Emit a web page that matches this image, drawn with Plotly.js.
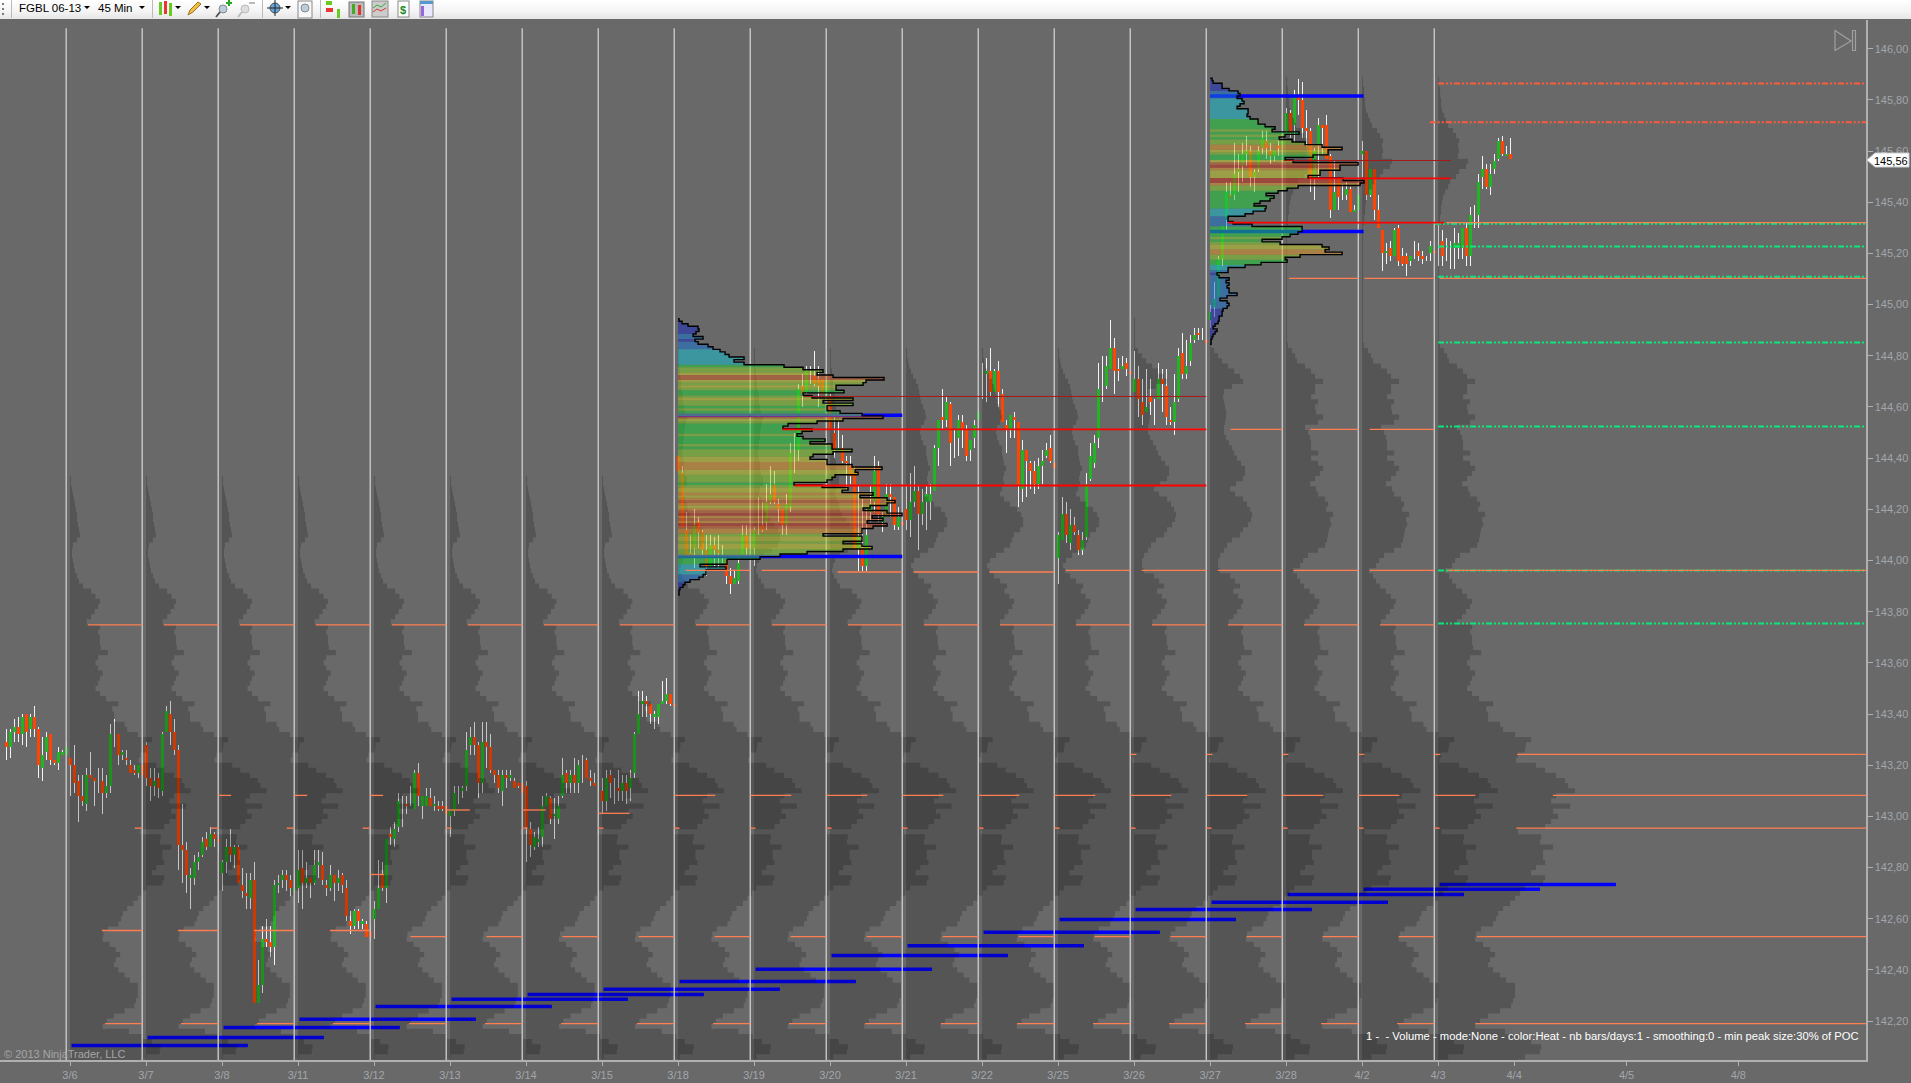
<!DOCTYPE html>
<html><head><meta charset="utf-8">
<script src="https://cdn.plot.ly/plotly-3.0.1.min.js"></script>
<style>
html,body{margin:0;padding:0;background:#696969;overflow:hidden;width:1911px;height:1083px}
#chart{position:absolute;left:0;top:0;width:1911px;height:1083px}
#bar{position:absolute;left:0;top:0;width:1911px;height:19px;background:linear-gradient(#ffffff,#f4f4f4 60%,#e6e6e6);z-index:5;font:11.5px "Liberation Sans",Arial,sans-serif;color:#000}
#bar span{position:absolute;top:2px}
#bar svg{position:absolute;left:0;top:0}
</style></head><body>
<div id="chart"></div>
<div id="bar">
<span style="left:19px">FGBL 06-13</span><span style="left:98px">45 Min</span>
<svg width="460" height="19">
<g fill="#000"><path d="M84 6h6l-3 3zM139 6h6l-3 3zM175 6h6l-3 3zM204 6h6l-3 3zM285 6h6l-3 3z"/></g>
<g stroke="#bbb"><path d="M11.5 0v18M152.5 0v18M262.5 0v18M320.5 0v18"/></g>
<g stroke="#555" fill="none"><circle cx="3" cy="4" r=".7"/><circle cx="3" cy="9" r=".7"/><circle cx="3" cy="14" r=".7"/></g>
<rect x="159" y="2" width="3" height="13" fill="#6c2"/><rect x="164" y="1" width="3" height="13" fill="#e33"/><rect x="169" y="3" width="3" height="13" fill="#6c2"/>
<path d="M188 15l2-5 8-8 3 2-8 8z" fill="#f0c040" stroke="#a07020"/>
<circle cx="223" cy="9" r="4" fill="#bcd" stroke="#888"/><path d="M220 12l-4 5" stroke="#555" stroke-width="2"/><path d="M229 0v6M226 3h6" stroke="#2a2" stroke-width="2"/>
<circle cx="245" cy="9" r="4" fill="#ddd" stroke="#bbb"/><path d="M242 12l-4 5" stroke="#bbb" stroke-width="2"/><path d="M249 3h6" stroke="#bbb" stroke-width="2"/>
<circle cx="275" cy="8" r="5" fill="#6aa5d8" stroke="#456"/><path d="M275 0v16M267 8h16" stroke="#222"/>
<rect x="298" y="1" width="14" height="17" fill="#f8f8f8" stroke="#888"/><circle cx="305" cy="8" r="4" fill="#bcd" stroke="#888"/>
<rect x="326" y="1" width="6" height="4" fill="#6c2"/><rect x="326" y="8" width="7" height="4" fill="#e33"/><rect x="337" y="9" width="3" height="9" fill="#6c2"/>
<rect x="349" y="2" width="15" height="15" fill="#bbb" stroke="#777"/><rect x="352" y="4" width="3" height="10" fill="#4a2"/><rect x="358" y="5" width="3" height="10" fill="#d33"/>
<rect x="372" y="1" width="16" height="16" fill="#ccc" stroke="#888"/><path d="M373 8l4-3 4 2 5-4" stroke="#3a3" fill="none"/><path d="M373 12l4-3 4 2 5-3" stroke="#d33" fill="none"/>
<rect x="398" y="1" width="11" height="16" fill="#fff" stroke="#888"/><text x="400" y="14" font-size="11" font-weight="bold" fill="#282">$</text>
<rect x="420" y="1" width="13" height="16" fill="#e8e8ff" stroke="#888"/><rect x="420" y="1" width="13" height="3" fill="#59c"/><rect x="421" y="6" width="3" height="10" fill="#96d"/>
</svg></div>
<script>
// Session labels and axis ticks
const dateLabels = ["3/6","3/7","3/8","3/11","3/12","3/13","3/14","3/15","3/18","3/19","3/20","3/21","3/22","3/25","3/26","3/27","3/28","4/2","4/3","4/4","4/5","4/8"];
const dateTickPositions = [0,1,2,3,4,5,6,7,8,9,10,11,12,13,14,15,16,17,18,19,20.48,21.95];

// 45-minute candles as [open, high, low, close]
const s0305 = [[143.29,143.34,143.22,143.27],[143.27,143.34,143.23,143.33],[143.33,143.38,143.29,143.35],[143.35,143.39,143.29,143.32],[143.32,143.40,143.28,143.39],[143.40,143.40,143.27,143.33],[143.34,143.40,143.31,143.39],[143.39,143.43,143.31,143.34],[143.34,143.35,143.15,143.20],[143.19,143.31,143.14,143.24],[143.25,143.33,143.22,143.31],[143.32,143.32,143.20,143.22],[143.22,143.22,143.20,143.21],[143.21,143.27,143.18,143.25],[143.24,143.26,143.24,143.25],[143.24,143.29,143.24,143.27]];
const s0306 = [[143.23,143.23,143.08,143.20],[143.20,143.28,143.09,143.13],[143.14,143.16,142.98,143.08],[143.08,143.16,143.04,143.06],[143.05,143.19,143.02,143.16],[143.16,143.25,143.15,143.15],[143.15,143.15,143.04,143.14],[143.12,143.19,143.09,143.12],[143.14,143.19,143.01,143.09],[143.09,143.16,143.07,143.12],[143.12,143.36,143.09,143.32],[143.32,143.38,143.27,143.32],[143.32,143.32,143.20,143.24],[143.24,143.26,143.22,143.25],[143.23,143.26,143.20,143.22],[143.20,143.22,143.17,143.17],[143.18,143.20,143.16,143.17],[143.17,143.20,143.15,143.20],[143.20,143.22,143.16,143.16]];
const s0307 = [[143.28,143.29,143.12,143.15],[143.15,143.19,143.06,143.12],[143.12,143.19,143.08,143.14],[143.15,143.17,143.07,143.11],[143.10,143.33,143.08,143.32],[143.33,143.43,143.33,143.41],[143.40,143.45,143.28,143.33],[143.33,143.38,143.24,143.26],[143.26,143.28,142.79,142.89],[142.89,143.05,142.74,142.87],[142.87,142.90,142.70,142.77],[142.76,142.80,142.64,142.77],[142.76,142.85,142.73,142.82],[142.82,142.86,142.79,142.84],[142.85,142.92,142.84,142.90],[142.91,142.94,142.87,142.88],[142.88,142.96,142.88,142.93],[142.93,142.94,142.88,142.91],[142.91,142.94,142.86,142.90]];
const s0308 = [[142.78,142.83,142.71,142.82],[142.82,142.91,142.78,142.88],[142.88,142.95,142.82,142.85],[142.85,142.89,142.80,142.88],[142.88,142.89,142.74,142.74],[142.73,142.80,142.68,142.71],[142.70,142.78,142.64,142.69],[142.68,142.78,142.64,142.75],[142.75,142.82,142.27,142.27],[142.27,142.44,142.27,142.34],[142.34,142.57,142.31,142.52],[142.52,142.60,142.49,142.51],[142.51,142.57,142.45,142.49],[142.49,142.75,142.42,142.73],[142.73,142.77,142.70,142.74],[142.75,142.79,142.72,142.77],[142.77,142.79,142.71,142.75],[142.75,142.77,142.69,142.72],[142.71,142.78,142.70,142.72]];
const s0311 = [[142.72,142.87,142.66,142.79],[142.80,142.87,142.64,142.74],[142.74,142.82,142.72,142.76],[142.76,142.76,142.68,142.74],[142.74,142.87,142.73,142.81],[142.81,142.87,142.76,142.82],[142.81,142.86,142.73,142.75],[142.73,142.75,142.69,142.72],[142.72,142.81,142.71,142.77],[142.77,142.77,142.67,142.74],[142.74,142.79,142.71,142.76],[142.77,142.78,142.70,142.73],[142.72,142.75,142.59,142.61],[142.59,142.63,142.54,142.57],[142.57,142.64,142.56,142.63],[142.63,142.64,142.56,142.59],[142.58,142.60,142.56,142.59],[142.58,142.59,142.53,142.53],[142.55,142.57,142.51,142.53]];
const s0312 = [[142.60,142.67,142.52,142.64],[142.64,142.83,142.64,142.72],[142.77,142.82,142.71,142.72],[142.72,142.91,142.66,142.91],[142.93,142.96,142.89,142.92],[142.91,142.98,142.88,142.95],[142.96,143.09,142.94,143.06],[143.04,143.08,142.96,143.04],[143.05,143.08,143.01,143.04],[143.07,143.12,143.04,143.07],[143.03,143.18,143.03,143.17],[143.17,143.21,143.04,143.08],[143.04,143.08,142.99,143.08],[143.04,143.11,143.04,143.08],[143.07,143.11,143.04,143.04],[143.04,143.08,143.02,143.05],[143.04,143.06,143.02,143.03],[143.04,143.06,143.02,143.03],[143.04,143.04,142.97,143.01]];
const s0313 = [[143.00,143.02,142.92,143.02],[143.02,143.12,143.00,143.09],[143.09,143.12,143.05,143.09],[143.10,143.12,143.07,143.11],[143.12,143.33,143.10,143.26],[143.28,143.35,143.24,143.31],[143.31,143.37,143.24,143.28],[143.28,143.29,143.07,143.13],[143.13,143.37,143.09,143.29],[143.29,143.37,143.19,143.27],[143.27,143.32,143.17,143.18],[143.18,143.18,143.13,143.16],[143.16,143.18,143.09,143.11],[143.10,143.18,143.04,143.16],[143.16,143.18,143.11,143.15],[143.15,143.18,143.14,143.16],[143.14,143.15,143.11,143.11],[143.13,143.13,143.11,143.12],[143.13,143.14,143.09,143.09]];
const s0314 = [[143.12,143.14,142.82,142.96],[142.95,142.98,142.84,142.89],[142.88,142.94,142.87,142.92],[142.90,142.96,142.88,142.91],[142.92,143.08,142.88,143.04],[143.04,143.09,143.04,143.08],[143.07,143.08,142.97,142.99],[143.00,143.07,142.91,143.01],[142.99,143.08,142.97,143.04],[143.08,143.23,143.07,143.16],[143.17,143.18,143.09,143.13],[143.13,143.18,143.09,143.16],[143.16,143.23,143.09,143.13],[143.13,143.22,143.09,143.20],[143.17,143.24,143.13,143.17],[143.22,143.23,143.15,143.15],[143.15,143.18,143.12,143.14],[143.13,143.17,143.12,143.12],[143.13,143.17,143.10,143.13]];
const s0315 = [[143.10,143.15,143.01,143.06],[143.06,143.18,143.02,143.15],[143.16,143.18,143.07,143.13],[143.10,143.15,143.05,143.10],[143.11,143.18,143.06,143.10],[143.10,143.16,143.06,143.13],[143.13,143.16,143.05,143.10],[143.11,143.18,143.06,143.15],[143.17,143.33,143.15,143.32],[143.32,143.49,143.32,143.40],[143.44,143.49,143.39,143.45],[143.45,143.47,143.39,143.44],[143.44,143.44,143.36,143.40],[143.39,143.41,143.34,143.40],[143.39,143.44,143.36,143.44],[143.44,143.53,143.44,143.45],[143.45,143.54,143.44,143.48],[143.48,143.48,143.43,143.44],[143.44,143.44,143.43,143.43]];
const s0318 = [[144.41,144.41,144.35,144.35],[144.34,144.37,144.13,144.13],[144.12,144.19,144.02,144.02],[144.03,144.10,144.01,144.02],[144.05,144.20,143.97,144.14],[144.15,144.17,144.05,144.11],[144.11,144.12,144.02,144.04],[144.04,144.10,143.94,143.98],[143.98,144.10,143.98,144.06],[144.06,144.09,143.98,144.04],[144.04,144.10,143.97,144.03],[144.02,144.06,143.99,144.01],[144.00,144.01,143.91,143.94],[143.94,143.97,143.87,143.91],[143.91,143.96,143.91,143.93],[143.92,144.02,143.91,143.99],[144.02,144.14,144.01,144.10],[144.10,144.14,144.02,144.05],[144.05,144.08,144.00,144.05]];
const s0319 = [[144.05,144.13,143.98,144.12],[144.12,144.25,144.10,144.12],[144.14,144.23,144.11,144.12],[144.15,144.30,144.12,144.23],[144.23,144.37,144.22,144.26],[144.30,144.35,144.22,144.23],[144.22,144.24,144.15,144.20],[144.20,144.20,144.10,144.14],[144.14,144.26,144.10,144.22],[144.21,144.46,144.19,144.42],[144.42,144.50,144.34,144.42],[144.43,144.69,144.39,144.67],[144.68,144.73,144.60,144.65],[144.66,144.76,144.65,144.74],[144.73,144.76,144.69,144.73],[144.72,144.82,144.68,144.69],[144.71,144.76,144.60,144.68],[144.71,144.71,144.65,144.65],[144.63,144.74,144.63,144.68]];
const s0320 = [[144.64,144.65,144.51,144.51],[144.50,144.56,144.40,144.43],[144.43,144.55,144.43,144.44],[144.44,144.49,144.38,144.39],[144.39,144.41,144.28,144.38],[144.37,144.41,144.30,144.33],[144.35,144.37,144.04,144.04],[144.05,144.29,143.96,144.09],[144.05,144.24,143.96,143.98],[143.98,144.20,143.96,144.10],[144.19,144.29,144.15,144.22],[144.23,144.41,144.19,144.35],[144.37,144.39,144.15,144.18],[144.15,144.19,144.11,144.17],[144.17,144.30,144.17,144.26],[144.26,144.30,144.17,144.25],[144.25,144.25,144.12,144.14],[144.13,144.21,144.12,144.17],[144.15,144.15,144.14,144.14]];
const s0321 = [[144.20,144.29,144.12,144.16],[144.16,144.34,144.09,144.23],[144.23,144.37,144.21,144.27],[144.27,144.29,144.04,144.18],[144.18,144.28,144.14,144.23],[144.23,144.29,144.12,144.26],[144.23,144.30,144.16,144.26],[144.27,144.45,144.27,144.44],[144.44,144.55,144.37,144.55],[144.56,144.67,144.51,144.55],[144.55,144.64,144.52,144.62],[144.61,144.62,144.37,144.46],[144.50,144.51,144.40,144.50],[144.48,144.57,144.41,144.55],[144.54,144.57,144.44,144.51],[144.51,144.53,144.39,144.41],[144.43,144.47,144.39,144.47],[144.48,144.55,144.44,144.53],[144.55,144.60,144.48,144.58]];
const s0322 = [[144.65,144.77,144.63,144.65],[144.73,144.79,144.62,144.74],[144.74,144.83,144.64,144.66],[144.66,144.75,144.66,144.74],[144.74,144.78,144.60,144.66],[144.65,144.67,144.54,144.54],[144.53,144.55,144.42,144.51],[144.51,144.57,144.48,144.57],[144.56,144.58,144.48,144.55],[144.54,144.54,144.21,144.29],[144.28,144.47,144.23,144.43],[144.43,144.43,144.25,144.39],[144.38,144.39,144.28,144.35],[144.35,144.39,144.26,144.30],[144.30,144.40,144.28,144.37],[144.37,144.43,144.30,144.39],[144.41,144.46,144.40,144.43],[144.44,144.49,144.38,144.39],[144.38,144.39,144.36,144.36]];
const s0325 = [[144.01,144.11,143.91,144.10],[144.08,144.25,144.08,144.18],[144.18,144.23,144.07,144.10],[144.07,144.20,144.04,144.14],[144.14,144.17,144.10,144.11],[144.10,144.12,144.02,144.04],[144.04,144.11,144.02,144.08],[144.09,144.34,144.08,144.30],[144.32,144.46,144.31,144.41],[144.38,144.49,144.36,144.46],[144.48,144.77,144.44,144.67],[144.70,144.80,144.62,144.70],[144.68,144.80,144.67,144.76],[144.75,144.94,144.75,144.83],[144.83,144.87,144.65,144.74],[144.75,144.79,144.70,144.74],[144.75,144.80,144.75,144.76],[144.77,144.79,144.72,144.75],[144.74,144.82,144.73,144.73]];
const s0326 = [[144.66,144.82,144.66,144.71],[144.71,144.76,144.56,144.63],[144.62,144.71,144.53,144.57],[144.58,144.75,144.58,144.60],[144.64,144.71,144.57,144.62],[144.60,144.63,144.53,144.60],[144.63,144.77,144.63,144.71],[144.71,144.75,144.58,144.69],[144.68,144.75,144.53,144.56],[144.55,144.60,144.53,144.54],[144.54,144.73,144.49,144.62],[144.63,144.83,144.62,144.80],[144.81,144.89,144.71,144.73],[144.73,144.86,144.71,144.76],[144.78,144.88,144.76,144.85],[144.86,144.91,144.85,144.88],[144.89,144.91,144.86,144.88],[144.88,144.91,144.86,144.88],[144.86,144.87,144.84,144.85]];
const s0327 = [[144.94,145.00,144.91,144.97],[144.99,145.09,144.95,145.02],[145.03,145.19,145.03,145.18],[145.18,145.31,145.15,145.31],[145.33,145.48,145.29,145.44],[145.43,145.48,145.42,145.42],[145.43,145.63,145.41,145.51],[145.52,145.59,145.44,145.53],[145.54,145.63,145.48,145.59],[145.59,145.66,145.54,145.60],[145.60,145.62,145.46,145.50],[145.50,145.53,145.44,145.52],[145.53,145.62,145.52,145.60],[145.61,145.68,145.59,145.65],[145.64,145.68,145.57,145.61],[145.60,145.63,145.55,145.58],[145.58,145.60,145.56,145.60],[145.62,145.65,145.58,145.61],[145.61,145.65,145.59,145.64]];
const s0328 = [[145.68,145.77,145.67,145.75],[145.75,145.76,145.65,145.67],[145.70,145.84,145.63,145.81],[145.81,145.88,145.74,145.80],[145.80,145.87,145.65,145.69],[145.69,145.76,145.62,145.68],[145.68,145.69,145.44,145.50],[145.50,145.61,145.41,145.60],[145.62,145.73,145.50,145.70],[145.70,145.70,145.59,145.69],[145.70,145.74,145.57,145.57],[145.58,145.59,145.34,145.37],[145.37,145.56,145.37,145.44],[145.49,145.49,145.37,145.42],[145.45,145.47,145.41,145.45],[145.43,145.48,145.41,145.45],[145.45,145.46,145.36,145.36],[145.36,145.39,145.36,145.37],[145.37,145.43,145.37,145.43]];
const s0402 = [[145.59,145.64,145.50,145.60],[145.60,145.60,145.41,145.43],[145.43,145.53,145.42,145.53],[145.53,145.53,145.33,145.37],[145.37,145.43,145.30,145.30],[145.29,145.29,145.13,145.20],[145.20,145.24,145.16,145.21],[145.22,145.25,145.17,145.19],[145.19,145.30,145.19,145.29],[145.30,145.31,145.15,145.17],[145.19,145.22,145.15,145.16],[145.19,145.20,145.11,145.16],[145.17,145.19,145.15,145.19],[145.19,145.25,145.18,145.19],[145.21,145.24,145.17,145.19],[145.19,145.21,145.16,145.18],[145.18,145.19,145.17,145.18],[145.20,145.25,145.17,145.23],[145.21,145.21,145.19,145.20]];
const s0403 = [[145.24,145.31,145.15,145.24],[145.25,145.29,145.15,145.19],[145.22,145.26,145.17,145.22],[145.20,145.25,145.14,145.20],[145.22,145.30,145.14,145.24],[145.22,145.28,145.18,145.24],[145.22,145.30,145.18,145.30],[145.30,145.32,145.15,145.19],[145.19,145.38,145.15,145.35],[145.35,145.39,145.30,145.35],[145.35,145.51,145.30,145.48],[145.50,145.58,145.45,145.53],[145.53,145.55,145.45,145.46],[145.46,145.55,145.43,145.51],[145.53,145.59,145.51,145.56],[145.57,145.65,145.56,145.64],[145.64,145.66,145.58,145.59],[145.58,145.62,145.58,145.59],[145.59,145.65,145.57,145.57]];
const candleSessions = [s0306,s0307,s0308,s0311,s0312,s0313,s0314,s0315,s0318,s0319,s0320,s0321,s0322,s0325,s0326,s0327,s0328,s0402,s0403];

// Composite volume profile, price step 0.02, listed from the highest level down
const volLower = [24,29,34,32,28,24,19,34,32,34,34,35,43,32,29,32,37,34,32,29,34,41,55,48,50,50,62,65,77,93,88,87,80,78,98,107,118,127,130,137,118,113,132,115,120,113,107,80,103,102,115,105,105,107,98,93,107,105,87,82,77,72,65,60,58,55,43,38,37,45,52,57,52,50,55,62,68,77,77,77,75,73,62,50,42,37,67,83,93,103,102,87,80];
const volUpperA = [1,1,2,3,4,5,6,7,7,8,9,10,7,3,2,2,3,4,5,7,9,13];
const volUpperB = [1,1,1,1,2,2,3,3,4,5,5,6,7,9,8,7,6,6,5,5,4,5,6,6,7,9,9,6,5,7,9,10,12,16,20,24,26,26,24,18,10,5,3,2,4,7,10];
const volUpperC = [1,1,2,3,5,7,10,12,13,14,15,17,19,20,18,15,14,15,17,20,20,21,22,24,22,21,22,20,18,22,28,35,39,41,41,38,32,30,28,22,14,8,5,7,12,18,25];
const volUpperD = [1,1,1,1,1,1,4,8,12,18,24,30,33,22,14,13,14,15,16,16,15,14,14,16,19,22,24,27,31,35,35,33,26,20,25,33,37,40,42,41,38,33,30,22,17,14,10,8,8,10,20,25,30];
const volUpperE = [1,1,2,2,3,3,4,6,8,10,15,18,21,20,21,20,30,28,21,18,12,10,7,5,4,3,3,2,2,1,1,1,1,1,1,1,1,1,1,1,1,1,1,1,1,1,1,1,1,1,1,1,2,6,9,11,19,25,29,37,29,29,25,32,29,30,37,32,19,22,24,25,25,32,25,32,37,34,29,24,30,32,39,42,40,47,44,45,43,42,41,39,32,22,17,14,7,11,14,18];
const sessionUpper = ["A","A","A","A","A","A","A","A","B","B","B","C","C","C","D","D","E","E","E"];
const sessionLowerScale = [.88,.88,.88,.88,.88,.88,.89,.89,.90,.91,.92,.93,.94,.95,.96,.97,.98,.99,1];

// Heat-coloured session profiles, price step 0.01, from the highest level down
const heat18Top = 144.94;
const heat18Vol = [1,4,10,20,21,18,15,25,17,20,30,35,42,47,51,66,56,66,106,125,145,139,155,206,188,185,158,158,166,125,134,175,145,175,149,149,162,184,205,165,139,110,105,134,124,119,125,147,132,154,154,174,155,135,132,149,149,174,204,177,180,157,154,149,116,144,170,164,195,182,209,217,209,192,185,209,224,194,205,189,209,195,184,184,145,184,184,165,184,194,165,129,102,82,49,49,22,48,28,28,25,21,12,7,5,2,1,1];
const heat18Idx = [0,0,0,0,0,0,1,1,0,1,1,1,2,2,2,2,2,2,3,4,4,5,7,7,5,4,5,4,3,3,4,5,4,4,3,4,3,4,7,5,4,3,3,3,3,4,3,3,3,4,3,4,4,4,5,5,6,6,6,5,5,4,4,4,3,4,5,5,6,5,6,7,6,5,6,7,8,6,7,6,8,7,6,6,4,5,5,4,5,5,4,4,4,3,3,3,2,2,2,2,1,1,1,0,0,0,0,0];
const heat27Top = 145.88;
const heat27Vol = [2,3,12,12,19,28,30,27,32,34,30,27,38,38,37,40,48,48,55,65,62,89,75,69,82,95,112,132,118,118,103,75,83,148,130,130,110,110,98,133,154,150,88,77,68,56,64,60,50,44,56,55,43,35,18,18,23,42,92,92,88,80,72,52,70,112,119,115,132,90,75,77,51,35,18,18,7,9,19,16,19,17,19,19,27,17,10,17,19,17,13,12,12,9,9,8,5,3,7,5,3,2,1,1];
const heat27Idx = [0,0,0,0,0,1,1,1,2,2,2,2,2,2,2,2,3,3,3,3,4,3,4,3,4,4,6,6,5,4,3,3,5,7,8,6,5,5,5,8,8,6,4,4,3,3,3,3,3,3,3,2,2,2,1,1,1,1,3,3,3,3,4,3,4,5,5,6,6,4,4,3,3,2,2,1,0,1,1,1,1,1,1,1,1,1,1,1,1,1,0,0,0,0,0,0,0,0,0,0,0,0,0,0];
const heatPalette = ["rgba(30,45,187,.55)","rgba(23,114,205,.55)","rgba(23,187,205,.55)","rgba(32,205,59,.55)","rgba(132,205,41,.55)","rgba(196,205,41,.55)","rgba(223,150,41,.55)","rgba(208,95,41,.55)","rgba(196,45,30,.55)"];

// Reference levels
const pocPrices = [142.105,142.136,142.175,142.207,142.257,142.285,142.304,142.324,142.355,142.403,142.456,142.494,142.547,142.597,142.636,142.664,142.695,142.715,142.734];
const valueAreaLines = [[144.567,8,10.95],[144.016,8,10.95],[145.815,15,17.02],[145.286,15,17.02]];
const redLines = [[144.512,9.375,14.95],[144.293,9.535,14.95],[145.493,16.30,18.17],[145.32,15.24,18.08]];
const thinRedLines = [[144.641,9.65,14.95],[145.563,15.97,18.17]];
// price, first session, last session, start and end measured from that session's line
const nakedPeaks = [[142.19,0,17,.51,1],[142.19,18,18,.54,6],[142.554,0,3,.47,1],[142.53,4,17,.53,1],[142.53,18,18,.56,6],[143.082,2,4,0,.17],[143.082,8,18,0,.54],[143.082,18,18,1.56,6],[142.954,1,4,-.1,0],[142.954,5,18,0,.07],[142.954,18,18,1.08,6],[143.242,14,18,0,.08],[143.242,18,18,1.09,6],[142.773,4,4,0,.18],[143.025,5,6,0,.31],[143.012,7,7,0,.41],[143.748,0,17,.285,1],[143.961,8,9,.15,1],[143.955,10,12,.15,1],[143.961,13,17,.15,1],[143.961,18,18,.18,6],[144.512,14,15,.32,1],[144.512,16,16,.37,1],[144.512,17,17,.15,1],[145.32,18,18,.16,6],[145.102,16,16,.09,1],[145.102,17,17,.08,1],[145.102,18,18,.07,6]];
const redTargets = [[145.864,18.0],[145.712,17.89]];
const greenTargets = [[145.316,17.96],[145.227,18.0],[145.109,18.0],[144.852,18.0],[144.524,18.0],[143.961,18.0],[143.754,18.0]];
const lastPrice = 145.56;

// ---- build ----
const XMIN = -0.921, XMAX = 23.63, YMIN = 142.048, YMAX = 146.112, SESSION_PX = 76;
const volToSession = v => v / SESSION_PX;
const lineX = k => k - 0.05;
const traces = [];

// candles
const cx = [], co = [], ch = [], cl = [], cc = [];
function addCandles(rows, s, offset){
  rows.forEach((r, i) => { cx.push(s + (i + offset + .2) / 19); co.push(r[0]); ch.push(r[1]); cl.push(r[2]); cc.push(r[3]); });
}
addCandles(s0305, 0, -s0305.length);
candleSessions.forEach((rows, s) => addCandles(rows, s, 0));
traces.push({type:"bar", x:cx, base:cl, y:ch.map((h,i)=>h-cl[i]), width:1/SESSION_PX, marker:{color:"#f4f4f4", line:{width:0}}});
traces.push({type:"bar", x:cx, base:co.map((o,i)=>Math.min(o,cc[i])), y:co.map((o,i)=>Math.abs(o-cc[i])), width:3/SESSION_PX,
  marker:{color:co.map((o,i)=>cc[i]>=o?"#22b422":"#ff4500"), line:{width:0}}});

function segs(rows){ // [price,x0,x1]
  const x=[],y=[]; rows.forEach(r=>{x.push(r[1],r[2],null);y.push(r[0],r[0],null);}); return {x,y};
}
function lineTrace(rows, color, width, dash){
  const s = segs(rows);
  return {type:"scatter", mode:"lines", x:s.x, y:s.y, line:{color, width, dash:dash||"solid", shape:"linear"}};
}

// POC lines sit beneath the grey profiles
traces.push(lineTrace(pocPrices.map((p,k)=>[p,k+.02,k+2.34]), "#0000ff", 3.5));

// grey composite profiles
const uppers = {A:[144.32,volUpperA],B:[144.82,volUpperB],C:[144.82,volUpperC],D:[144.94,volUpperD],E:[145.88,volUpperE]};
sessionUpper.forEach((key, k) => {
  const [top, up] = uppers[key];
  const vols = up.concat(volLower.map(v => v * sessionLowerScale[k]));
  const px = [k], py = [top + .01];
  vols.forEach((v, i) => {
    const p = top - i * .02, x = k + volToSession(v);
    px.push(x, x); py.push(p + .01, p - .01);
  });
  px.push(k); py.push(py[py.length-1]);
  traces.push({type:"scatter", mode:"lines", x:px, y:py, fill:"toself", fillcolor:"rgba(0,0,0,.19)", line:{width:0}});
});

// session separators
const vx=[],vy=[];
for(let k=0;k<19;k++){ vx.push(lineX(k),lineX(k),null); vy.push(YMIN,146.08,null); }
traces.push({type:"scatter", mode:"lines", x:vx, y:vy, line:{color:"#c8c8c8", width:1.4}});

// value area lines, under the heat colour
traces.push(lineTrace(valueAreaLines, "#0000ff", 3.5));

// heat profiles
function addHeat(base, top, vols, idx){
  heatPalette.forEach((col, c) => {
    const x=[],y=[];
    vols.forEach((v,i)=>{ if((idx[i]||0)!==c) return;
      const p=top-i*.01, r=base+volToSession(v);
      x.push(base,r,r,base,base,null); y.push(p+.005,p+.005,p-.005,p-.005,p+.005,null);
    });
    if(x.length) traces.push({type:"scatter", mode:"lines", x, y, fill:"toself", fillcolor:col, line:{width:0}});
  });
  const ox=[base],oy=[top+.005];
  vols.forEach((v,i)=>{ const p=top-i*.01, r=base+volToSession(v); ox.push(r,r); oy.push(p+.005,p-.005); });
  ox.push(base); oy.push(top-(vols.length-1)*.01-.005);
  traces.push({type:"scatter", mode:"lines", x:ox, y:oy, line:{color:"#000", width:1.4}});
}
addHeat(8, heat18Top, heat18Vol, heat18Idx);
addHeat(15, heat27Top, heat27Vol, heat27Idx);

// naked peak lines
const peakRows=[];
nakedPeaks.forEach(([p,a,b,s,e])=>{ for(let k=a;k<=b;k++) peakRows.push([p,lineX(k)+s,Math.min(lineX(k)+e,XMAX)]); });
traces.push(lineTrace(redTargets.map(r=>[r[0],r[1],XMAX]), "#ff5a3c", 2, "6px,2px,2px,2px,2px,2px"));
traces.push(lineTrace(greenTargets.map(r=>[r[0],r[1],XMAX]), "rgba(0,245,125,.92)", 2, "6px,2px,2px,2px,2px,2px"));
traces.push(lineTrace(peakRows, "#ff7f50", 1.3));
traces.push(lineTrace(redLines, "#ff0000", 1.8));
traces.push(lineTrace(thinRedLines, "#a81818", 1));
traces.forEach(t=>{t.hoverinfo="skip"; t.showlegend=false;});

// chrome positioned on the plot frame
const PW=1866, PH=1040, PT=20;
const fx = px => px/PW, fy = py => (PT+PH-py)/PH;
const axisGrey="#b0b0b0", labelGrey="#a2a6ab";
const layout = {
  width:1911, height:1083, margin:{l:0,r:45,t:20,b:23,pad:0},
  paper_bgcolor:"#696969", plot_bgcolor:"#696969", showlegend:false, hovermode:false,
  separators:",.", barmode:"overlay", bargap:0,
  font:{family:'"Liberation Sans",Arial,sans-serif', size:11, color:labelGrey},
  xaxis:{range:[XMIN,XMAX], tickmode:"array", tickvals:dateTickPositions, ticktext:dateLabels, showgrid:false, zeroline:false,
    showline:true, linecolor:axisGrey, linewidth:1.5, ticks:"outside", ticklen:4, tickcolor:axisGrey, tickfont:{size:11,color:labelGrey}},
  yaxis:{range:[YMIN,YMAX], side:"right", tick0:142, dtick:.2, tickformat:".2f", showgrid:false, zeroline:false,
    showline:true, linecolor:axisGrey, linewidth:1.5, ticks:"outside", ticklen:5, tickcolor:axisGrey, tickfont:{size:11,color:labelGrey}},
  shapes:[
    {type:"path", xref:"paper", yref:"paper", path:`M${fx(1835)},${fy(30.5)} L${fx(1851)},${fy(41)} L${fx(1835)},${fy(50.5)} Z`, line:{color:"#a0a0a0",width:1.2}},
    {type:"rect", xref:"paper", yref:"paper", x0:fx(1852.5), x1:fx(1855.5), y0:fy(30.5), y1:fy(50.5), line:{color:"#a0a0a0",width:1.2}},
    {type:"path", xref:"paper", yref:"paper", path:`M${fx(1867)},${fy(160)} L${fx(1875)},${fy(153)} L${fx(1909)},${fy(153)} L${fx(1909)},${fy(167)} L${fx(1875)},${fy(167)} Z`, fillcolor:"#ffffff", line:{color:"#cccccc",width:1}}
  ],
  annotations:[
    {xref:"paper", yref:"y", x:fx(1891), y:lastPrice, text:"145,56", showarrow:false, font:{size:11,color:"#000"}, xanchor:"center", yanchor:"middle"},
    {xref:"paper", yref:"paper", x:fx(2), y:fy(1054), text:"© 2013 NinjaTrader, LLC", showarrow:false, font:{size:11,color:"#a6a6a6"}, xanchor:"left", yanchor:"middle"},
    {xref:"paper", yref:"paper", x:fx(1861), y:fy(1036), text:"1 -  - Volume - mode:None - color:Heat - nb bars/days:1 - smoothing:0 - min peak size:30% of POC", showarrow:false, font:{size:11.25,color:"#ffffff"}, xanchor:"right", yanchor:"middle"}
  ]
};
Plotly.newPlot("chart", traces, layout, {displayModeBar:false, staticPlot:true});
</script>
</body></html>
